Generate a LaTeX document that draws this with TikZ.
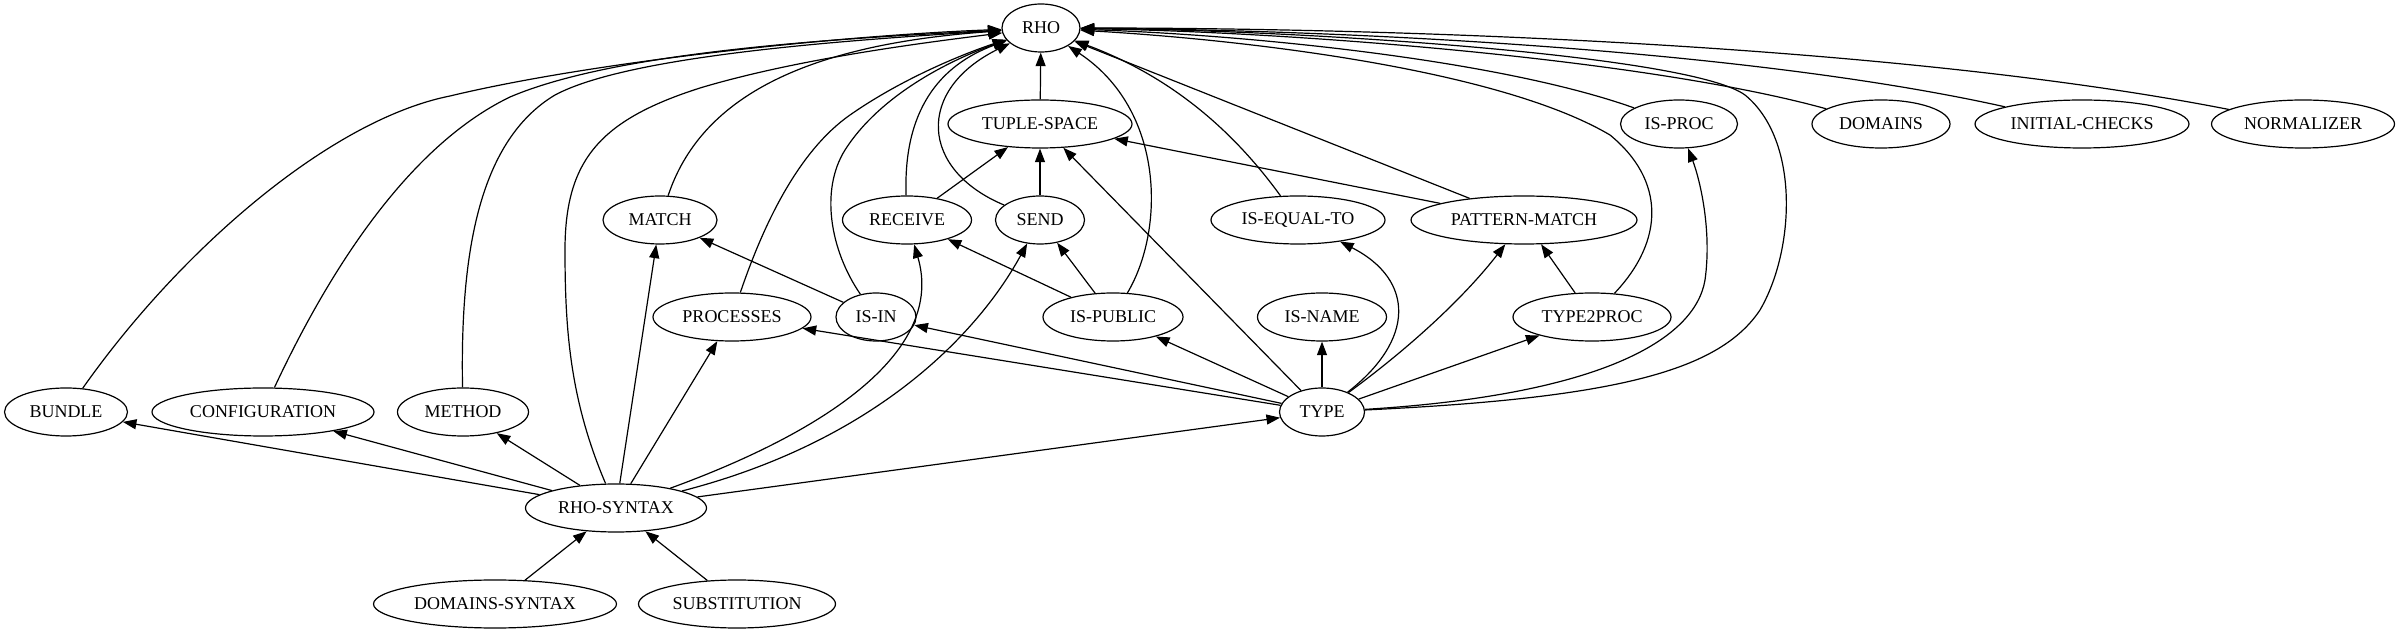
\documentclass[tikz,border=0pt]{standalone}
\usepackage{fontspec}
\setmainfont{Liberation Serif}
\usetikzlibrary{arrows.meta,shapes.geometric}
\tikzset{
  mod/.style={draw,ellipse,line width=.6pt,inner sep=0pt,minimum height=24pt,font=\fontsize{9}{11}\selectfont},
  dep/.style={-{Triangle[length=6.8pt,width=5pt]},line width=.6pt}
}

\begin{document}
\begin{tikzpicture}[x=.5pt,y=-.5pt]
\useasboundingbox (0,0) rectangle (2404,635);
\node[mod,minimum width=39pt] (rho) at (1041,28) {RHO};
\node[mod,minimum width=92pt] (tuplespace) at (1040,124) {TUPLE-SPACE};
\node[mod,minimum width=58.5pt] (isproc) at (1679,124) {IS-PROC};
\node[mod,minimum width=69pt] (domains) at (1881,124) {DOMAINS};
\node[mod,minimum width=107pt] (initialchecks) at (2082,124) {INITIAL-CHECKS};
\node[mod,minimum width=91.5pt] (normalizer) at (2303,124) {NORMALIZER};
\node[mod,minimum width=57pt] (match) at (660,220) {MATCH};
\node[mod,minimum width=64.5pt] (receive) at (907,220) {RECEIVE};
\node[mod,minimum width=44.5pt] (send) at (1040,220) {SEND};
\node[mod,minimum width=87pt] (isequalto) at (1298,220) {IS-EQUAL-TO};
\node[mod,minimum width=113pt] (patternmatch) at (1524,220) {PATTERN-MATCH};
\node[mod,minimum width=79pt] (processes) at (732,317) {PROCESSES};
\node[mod,minimum width=40pt] (isin) at (876,317) {IS-IN};
\node[mod,minimum width=70pt] (ispublic) at (1113,317) {IS-PUBLIC};
\node[mod,minimum width=64.5pt] (isname) at (1322,317) {IS-NAME};
\node[mod,minimum width=79pt] (type2proc) at (1592,317) {TYPE2PROC};
\node[mod,minimum width=61.5pt] (bundle) at (66,412) {BUNDLE};
\node[mod,minimum width=111pt] (configuration) at (263,412) {CONFIGURATION};
\node[mod,minimum width=65.5pt] (method) at (463,412) {METHOD};
\node[mod,minimum width=42.5pt] (type) at (1322,412) {TYPE};
\node[mod,minimum width=90.5pt] (rhosyntax) at (616,508) {RHO-SYNTAX};
\node[mod,minimum width=121.5pt] (domainssyntax) at (495,604) {DOMAINS-SYNTAX};
\node[mod,minimum width=98.5pt] (substitution) at (737,604) {SUBSTITUTION};

\draw[dep] (tuplespace) -- (rho);
\draw[dep] (bundle) .. controls (180,250) and (330,120) .. (450,96) .. controls (600,60) and (850,35) .. (rho);
\draw[dep] (configuration) .. controls (320,290) and (400,150) .. (510,97) .. controls (620,50) and (850,38) .. (rho);
\draw[dep] (method) .. controls (460,250) and (480,140) .. (555,95) .. controls (630,55) and (850,40) .. (rho);
\draw[dep] (rhosyntax) .. controls (570,400) and (565,330) .. (565,250) .. controls (565,160) and (600,120) .. (700,88) .. controls (800,58) and (930,42) .. (rho);
\draw[dep] (match) .. controls (700,100) and (800,45) .. (rho);
\draw[dep] (processes) .. controls (765,220) and (800,150) .. (850,115) .. controls (900,80) and (960,55) .. (rho);
\draw[dep] (isin) .. controls (830,250) and (820,190) .. (845,150) .. controls (880,95) and (950,60) .. (rho);
\draw[dep] (receive) .. controls (903,110) and (940,65) .. (rho);
\draw[dep] (send) .. controls (920,170) and (915,90) .. (rho);
\draw[dep] (ispublic) .. controls (1165,230) and (1165,110) .. (rho);
\draw[dep] (isequalto) .. controls (1240,140) and (1180,80) .. (rho);
\draw[dep] (patternmatch) -- (rho);
\draw[dep] (type2proc) .. controls (1665,240) and (1665,180) .. (1610,135) .. controls (1500,70) and (1250,40) .. (rho);
\draw[dep] (type) .. controls (1620,398) and (1720,370) .. (1760,310) .. controls (1795,250) and (1800,140) .. (1745,95) .. controls (1690,55) and (1300,30) .. (rho);
\draw[dep] (isproc) .. controls (1500,60) and (1250,35) .. (rho);
\draw[dep] (domains) .. controls (1650,60) and (1300,32) .. (rho);
\draw[dep] (initialchecks) .. controls (1750,50) and (1350,30) .. (rho);
\draw[dep] (normalizer) .. controls (1900,45) and (1400,28) .. (rho);

\draw[dep] (receive) -- (tuplespace);
\draw[dep] (send) -- (tuplespace);
\draw[dep] (patternmatch) -- (tuplespace);
\draw[dep] (type) -- (tuplespace);

\draw[dep] (isin) -- (match);
\draw[dep] (rhosyntax) -- (match);
\draw[dep] (ispublic) -- (receive);
\draw[dep] (rhosyntax) .. controls (830,430) and (945,350) .. (receive);
\draw[dep] (ispublic) -- (send);
\draw[dep] (rhosyntax) .. controls (880,440) and (980,330) .. (send);
\draw[dep] (type) .. controls (1415,340) and (1415,280) .. (isequalto);
\draw[dep] (type) .. controls (1420,340) and (1470,290) .. (patternmatch);
\draw[dep] (type2proc) -- (patternmatch);
\draw[dep] (type) .. controls (1600,395) and (1695,340) .. (1705,280) .. controls (1712,230) and (1700,180) .. (isproc);

\draw[dep] (rhosyntax) -- (processes);
\draw[dep] (type) -- (processes);
\draw[dep] (type) -- (isin);
\draw[dep] (type) -- (ispublic);
\draw[dep] (type) -- (isname);
\draw[dep] (type) -- (type2proc);

\draw[dep] (rhosyntax) -- (bundle);
\draw[dep] (rhosyntax) -- (configuration);
\draw[dep] (rhosyntax) -- (method);
\draw[dep] (rhosyntax) -- (type);
\draw[dep] (domainssyntax) -- (rhosyntax);
\draw[dep] (substitution) -- (rhosyntax);
\end{tikzpicture}
\end{document}
